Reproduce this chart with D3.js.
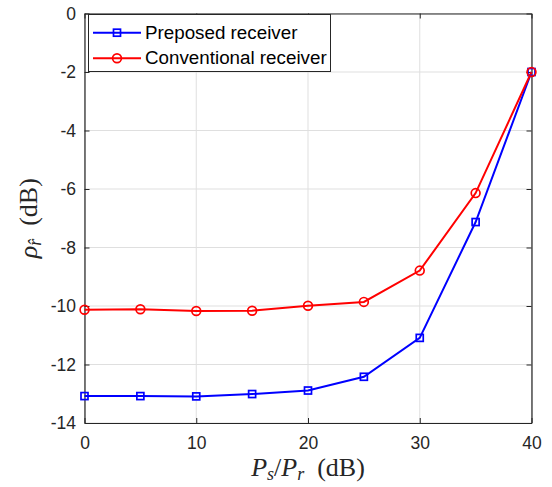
<!DOCTYPE html>
<html><head><meta charset="utf-8">
<script src="https://cdn.jsdelivr.net/npm/d3@7"></script>
<style>body{margin:0;background:#fff}svg{display:block}</style>
</head><body>
<svg id="c" width="552" height="487"></svg>
<script>
const xValues = [0, 5, 10, 15, 20, 25, 30, 35, 40];
const proposed = [-13.08, -13.08, -13.09, -13.01, -12.89, -12.42, -11.09, -7.13, -2.0];
const conventional = [-10.13, -10.11, -10.17, -10.16, -9.99, -9.86, -8.79, -6.14, -2.0];
const xTicks = [0, 10, 20, 30, 40];
const yTicks = [0, -2, -4, -6, -8, -10, -12, -14];
const seriesNames = ["Preposed receiver", "Conventional receiver"];

const svg = d3.select("#c");
const L = 84.5, R = 531.5, T = 13.5, B = 423;
const x = d3.scaleLinear().domain([0, 40]).range([L, R]);
const y = d3.scaleLinear().domain([-14, 0]).range([B, T]);
const axisColor = "#262626";

// grid
const g = svg.append("g");
g.selectAll(".gx").data(xTicks).join("line")
  .attr("x1", d => x(d)).attr("x2", d => x(d)).attr("y1", T).attr("y2", B)
  .attr("stroke", "#dfdfdf").attr("stroke-width", 1);
g.selectAll(".gy").data(yTicks).join("line")
  .attr("y1", d => y(d)).attr("y2", d => y(d)).attr("x1", L).attr("x2", R)
  .attr("stroke", "#dfdfdf").attr("stroke-width", 1);

// axes
const fontTick = "'Liberation Sans', Arial, sans-serif";
const xb = svg.append("g").attr("transform", `translate(0,${B})`)
  .call(d3.axisBottom(x).tickValues(xTicks).tickSize(-5).tickPadding(14).tickSizeOuter(0));
const xt = svg.append("g").attr("transform", `translate(0,${T})`)
  .call(d3.axisTop(x).tickValues(xTicks).tickSize(-5).tickFormat("").tickSizeOuter(0));
const yl = svg.append("g").attr("transform", `translate(${L},0)`)
  .call(d3.axisLeft(y).tickValues(yTicks).tickSize(-5).tickPadding(8.5).tickSizeOuter(0));
const yr = svg.append("g").attr("transform", `translate(${R},0)`)
  .call(d3.axisRight(y).tickValues(yTicks).tickSize(-5).tickFormat("").tickSizeOuter(0));
[xb, xt, yl, yr].forEach(a => {
  a.select(".domain").attr("stroke", axisColor).attr("stroke-width", 1.2);
  a.selectAll(".tick line").attr("stroke", axisColor).attr("stroke-width", 1);
  a.selectAll("text").attr("fill", axisColor).attr("font-size", 17.5).attr("font-family", fontTick);
});
yl.selectAll("text").text(d => String(d).replace("−", "-"));

// lines
const line = d3.line().x((d, i) => x(xValues[i])).y(d => y(d));
svg.append("path").datum(proposed).attr("d", line)
  .attr("fill", "none").attr("stroke", "#0000ff").attr("stroke-width", 2);
svg.append("path").datum(conventional).attr("d", line)
  .attr("fill", "none").attr("stroke", "#ff0000").attr("stroke-width", 2);

const ms = 7;
svg.selectAll(".sq").data(proposed).join("rect")
  .attr("x", (d, i) => x(xValues[i]) - ms / 2).attr("y", d => y(d) - ms / 2)
  .attr("width", ms).attr("height", ms)
  .attr("fill", "none").attr("stroke", "#0000ff").attr("stroke-width", 1.7);
svg.selectAll(".ci").data(conventional).join("circle")
  .attr("cx", (d, i) => x(xValues[i])).attr("cy", d => y(d)).attr("r", 4.4)
  .attr("fill", "none").attr("stroke", "#ff0000").attr("stroke-width", 1.7);

// legend
const lg = svg.append("g");
lg.append("rect").attr("x", 88.5).attr("y", 14.5).attr("width", 242).attr("height", 57)
  .attr("fill", "#fff").attr("stroke", axisColor).attr("stroke-width", 1);
const rows = [{c: "#0000ff", yy: 32.7, m: "sq"}, {c: "#ff0000", yy: 58.3, m: "ci"}];
rows.forEach((r, i) => {
  lg.append("line").attr("x1", 93).attr("x2", 141).attr("y1", r.yy).attr("y2", r.yy)
    .attr("stroke", r.c).attr("stroke-width", 2);
  if (r.m === "sq") lg.append("rect").attr("x", 117 - 3.5).attr("y", r.yy - 3.5).attr("width", 7).attr("height", 7)
    .attr("fill", "none").attr("stroke", r.c).attr("stroke-width", 1.7);
  else lg.append("circle").attr("cx", 117).attr("cy", r.yy).attr("r", 4.4)
    .attr("fill", "none").attr("stroke", r.c).attr("stroke-width", 1.7);
  lg.append("text").attr("x", 145).attr("y", r.yy + 6).text(seriesNames[i])
    .attr("font-family", fontTick).attr("font-size", 18.8).attr("fill", "#000");
});

// axis labels
const xl = svg.append("text").attr("x", (L + R) / 2).attr("y", 476).attr("text-anchor", "middle")
  .attr("font-family", "'Liberation Serif', serif").attr("font-size", 26).attr("fill", axisColor);
xl.append("tspan").attr("font-style", "italic").text("P");
xl.append("tspan").attr("font-style", "italic").attr("font-size", 18).attr("dy", 4).text("s");
xl.append("tspan").attr("dy", -4).text("/");
xl.append("tspan").attr("font-style", "italic").text("P");
xl.append("tspan").attr("font-style", "italic").attr("font-size", 18).attr("dy", 4).text("r");
xl.append("tspan").attr("dy", -4).text("\u2002(dB)");

const ylab = svg.append("text").attr("transform", `translate(37,${(T + B) / 2}) rotate(-90)`)
  .attr("text-anchor", "middle").attr("font-family", "'Liberation Serif', serif")
  .attr("font-size", 26).attr("fill", axisColor);
ylab.append("tspan").attr("font-style", "italic").text("ρ");
ylab.append("tspan").attr("font-style", "italic").attr("font-size", 18).attr("dy", 4).text("r\u0302");
ylab.append("tspan").attr("dy", -4).text("\u2002(dB)");
</script>
</body></html>
